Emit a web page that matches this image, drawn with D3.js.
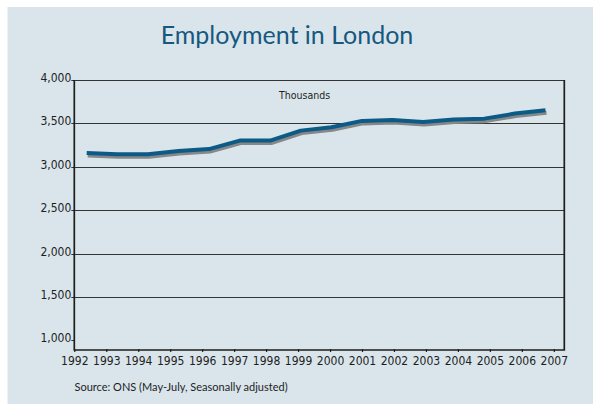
<!DOCTYPE html>
<html>
<head>
<meta charset="utf-8">
<script src="https://cdn.jsdelivr.net/npm/d3@7"></script>
<style>
  html, body { margin: 0; padding: 0; background: #fff; }
  svg { display: block; }
</style>
</head>
<body>
<svg id="chart" width="593" height="414"></svg>
<script>
(function () {
  "use strict";

  // May-July employment in London, thousands
  const years = [1992, 1993, 1994, 1995, 1996, 1997, 1998, 1999,
                 2000, 2001, 2002, 2003, 2004, 2005, 2006, 2007];
  const employment = [3158, 3146, 3146, 3181, 3204, 3302, 3302, 3417,
                      3456, 3529, 3540, 3517, 3544, 3555, 3613, 3652];
  const yTicks = [1000, 1500, 2000, 2500, 3000, 3500, 4000];
  const xTicks = years;

  const title = "Employment in London";
  const unitLabel = "Thousands";
  const source = "Source: ONS (May-July, Seasonally adjusted)";

  const svg = d3.select("#chart");
  const W = 593, H = 414;
  const plot = { left: 74.3, right: 564.3, top: 80, bottom: 350 };

  const BG = "#d9e5eb";
  const BLUE = "#0c5a86";
  const SHADOW = "#858789";
  const INK = "#1e1e1e";
  const tickFont = "'Liberation Sans Narrow', 'DejaVu Sans Condensed', sans-serif";
  const textFont = "Lato, 'Open Sans', sans-serif";

  svg.append("rect")
    .attr("x", 7.5).attr("y", 7)
    .attr("width", W - 7.5).attr("height", 397)
    .attr("fill", BG);

  svg.append("text")
    .attr("x", 287).attr("y", 44)
    .attr("text-anchor", "middle")
    .attr("font-family", textFont)
    .attr("font-size", 25)
    .attr("fill", "#17587f")
    .text(title);

  const y = d3.scaleLinear().domain([890, 4000]).range([plot.bottom, plot.top]);
  const xAxisScale = d3.scaleLinear().domain([1992, 2007]).range([plot.left, 553.8]);
  // the series sits on its own category spacing, slightly inset from the year ticks
  const xData = d3.scalePoint().domain(years).range([plot.left + 12.4, plot.right - 18.8]);

  const g = svg.append("g");

  // gridlines + y labels
  const yTick = g.append("g").selectAll("g")
    .data(yTicks)
    .join("g")
    .attr("transform", (d) => `translate(0,${Math.round(y(d)) + 0.5})`);

  yTick.append("line")
    .attr("x1", plot.left - 3)
    .attr("x2", (d) => (d === 1000 ? plot.left : plot.right))
    .attr("stroke", "#333")
    .attr("stroke-width", 1);

  yTick.append("text")
    .attr("x", plot.left - 3)
    .attr("dy", 1)
    .attr("text-anchor", "end")
    .attr("font-family", tickFont)
    .attr("font-size", 12)
    .attr("fill", INK)
    .text((d) => d3.format(",")(d));

  // frame: left, bottom and right axis lines
  g.append("path")
    .attr("d", d3.line()([[plot.left, plot.top], [plot.left, plot.bottom],
                          [plot.right, plot.bottom], [plot.right, plot.top]]))
    .attr("fill", "none")
    .attr("stroke", INK)
    .attr("stroke-width", 1.7);

  // x axis ticks and labels
  const xAxis = d3.axisBottom(xAxisScale)
    .tickValues(xTicks)
    .tickFormat(d3.format("d"))
    .tickSizeInner(3)
    .tickSizeOuter(0)
    .tickPadding(4);

  const xg = g.append("g")
    .attr("transform", `translate(0,${plot.bottom - 1})`)
    .call(xAxis);
  xg.select(".domain").remove();
  xg.selectAll(".tick line").attr("stroke", INK).attr("stroke-width", 1.2);
  xg.selectAll(".tick text")
    .attr("font-family", tickFont)
    .attr("font-size", 12)
    .attr("fill", INK);

  g.append("text")
    .attr("x", 279).attr("y", 99)
    .attr("font-family", tickFont)
    .attr("font-size", 10.5)
    .attr("fill", INK)
    .text(unitLabel);

  // the series: grey drop shadow under the blue line
  const line = d3.line()
    .x((d, i) => xData(years[i]))
    .y((d) => y(d));

  g.append("path")
    .datum(employment)
    .attr("d", line)
    .attr("transform", "translate(1,2.5)")
    .attr("fill", "none")
    .attr("stroke", SHADOW)
    .attr("stroke-width", 4)
    .attr("stroke-linejoin", "round");

  g.append("path")
    .datum(employment)
    .attr("d", line)
    .attr("fill", "none")
    .attr("stroke", BLUE)
    .attr("stroke-width", 4)
    .attr("stroke-linejoin", "round");

  svg.append("text")
    .attr("x", 74.5).attr("y", 391)
    .attr("font-family", textFont)
    .attr("font-size", 11)
    .attr("fill", INK)
    .text(source);
})();
</script>
</body>
</html>
